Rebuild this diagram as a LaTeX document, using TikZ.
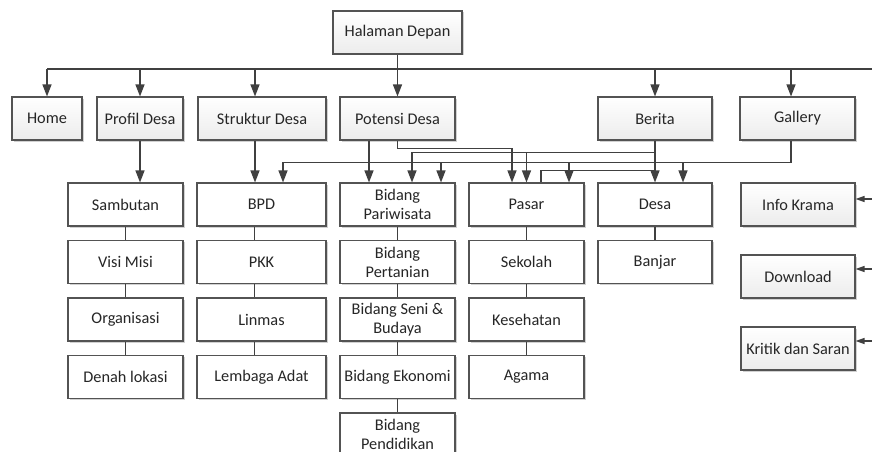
\documentclass[tikz,border=0pt]{standalone}
\usepackage{fontspec}
\setmainfont{Carlito}
\usetikzlibrary{arrows.meta,shadows,calc}
\definecolor{lncol}{HTML}{404040}
\tikzset{
  base/.style={draw=lncol!90, line width=1.1pt, minimum height=43pt, inner sep=1pt,
    align=center, font=\fontsize{16.3}{19}\selectfont, text=black!85,
    drop shadow={shadow xshift=1.5pt, shadow yshift=-1.5pt, opacity=0.18, fill=black}},
  topbox/.style={base, top color=white, bottom color=gray!15},
  subbox/.style={base, fill=white},
  wire/.style={draw=lncol, line width=1.2pt},
  arr/.style={wire, -{Triangle[length=12pt,width=9pt]}},
  sarr/.style={wire, -{Triangle[length=9pt,width=6pt]}},
}
\begin{document}
\begin{tikzpicture}[x=1pt,y=-1pt]
\useasboundingbox (0,0) rectangle (872,452);
\fill[white] (0,0) rectangle (872,452);

% top level
\node[topbox, minimum width=129pt] (hd) at (397.5,32.5) {Halaman Depan};
\node[topbox, minimum width=70pt]  (home)    at (47,118.5)    {Home};
\node[topbox, minimum width=86pt]  (profil)  at (140,118.5)   {Profil Desa};
\node[topbox, minimum width=128pt] (struk)   at (262,118.5)   {Struktur Desa};
\node[topbox, minimum width=115pt] (potensi) at (397.5,118.5) {Potensi Desa};
\node[topbox, minimum width=114pt] (berita)  at (655,118.5)   {Berita};
\node[topbox, minimum width=115pt] (gallery) at (797.5,118.5) {Gallery};

% right column
\node[topbox, minimum width=114pt] (info)   at (798,204.5) {Info Krama};
\node[topbox, minimum width=114pt] (down)   at (798,276.5) {Download};
\node[topbox, minimum width=114pt] (kritik) at (798,348.5) {Kritik dan Saran};

% column A
\node[subbox, minimum width=115pt] (samb)  at (125.5,204.5) {Sambutan};
\node[subbox, minimum width=115pt] (visi)  at (125.5,262)   {Visi Misi};
\node[subbox, minimum width=115pt] (org)   at (125.5,319.5) {Organisasi};
\node[subbox, minimum width=115pt] (denah) at (125.5,377)   {Denah lokasi};
% column B
\node[subbox, minimum width=129pt] (bpd)    at (261.5,204.5) {BPD};
\node[subbox, minimum width=129pt] (pkk)    at (261.5,262)   {PKK};
\node[subbox, minimum width=129pt] (linmas) at (261.5,319.5) {Linmas};
\node[subbox, minimum width=129pt] (adat)   at (261.5,377)   {Lembaga Adat};
% column C
\node[subbox, minimum width=115pt] (pari) at (397.5,204.5) {Bidang\\Pariwisata};
\node[subbox, minimum width=115pt] (pert) at (397.5,262)   {Bidang\\Pertanian};
\node[subbox, minimum width=115pt] (seni) at (397.5,319.5) {Bidang Seni \&\\Budaya};
\node[subbox, minimum width=115pt] (eko)  at (397.5,377)   {Bidang Ekonomi};
\node[subbox, minimum width=115pt] (pend) at (397.5,434.5) {Bidang\\Pendidikan};
% column D
\node[subbox, minimum width=115pt] (pasar) at (526.5,204.5) {Pasar};
\node[subbox, minimum width=115pt] (sek)   at (526.5,262)   {Sekolah};
\node[subbox, minimum width=115pt] (kes)   at (526.5,319.5) {Kesehatan};
\node[subbox, minimum width=115pt] (agama) at (526.5,377)   {Agama};
% column E
\node[subbox, minimum width=114pt] (desa)   at (655,204.5) {Desa};
\node[subbox, minimum width=114pt] (banjar) at (655,262)   {Banjar};

% top bus
\coordinate (busL) at (47,69);
\coordinate (busR) at (872,69);
\draw[wire] (hd.south) -- (hd.south |- busL);
\draw[wire] (busL) -- (busR);
\draw[arr] (busL) -- (home.north);
\draw[arr] (profil.north |- busL) -- (profil.north);
\coordinate (sN) at ([xshift=-7pt]struk.north);
\draw[arr] (sN |- busL) -- (sN);
\draw[arr] (potensi.north |- busL) -- (potensi.north);
\draw[arr] (berita.north |- busL) -- (berita.north);
\coordinate (gN) at ([xshift=-6.5pt]gallery.north);
\draw[arr] (gN |- busL) -- (gN);

% profil, struktur, potensi
\draw[arr] (profil.south) -- (profil.south |- samb.north);
\coordinate (sS) at ([xshift=-7pt]struk.south);
\draw[arr] (sS) -- (sS |- bpd.north);
\coordinate (pS1) at ([xshift=-28.5pt]potensi.south);
\draw[arr] (pS1) -- (pS1 |- pari.north);
\coordinate (pasarA) at ([xshift=-14.5pt]pasar.north);
\draw[arr] (potensi.south) -- ++(0,8) -| (pasarA);

% berita
\draw[arr] (berita.south) -- (desa.north);
\coordinate (b1) at ($(berita.south)+(0,12)$);
\coordinate (b2) at ($(berita.south)+(0,30)$);
\coordinate (pariB) at ([xshift=14.5pt]pari.north);
\draw[arr] (b1) -| (pariB);
\draw[arr] (pasar.north |- b1) -- (pasar.north);
\coordinate (pasarB) at ([xshift=14.5pt]pasar.north);
\draw[wire] (b2) -| (pasarB);

% gallery
\coordinate (gS) at ([xshift=-6.5pt]gallery.south);
\coordinate (g1) at ($(gS)+(0,22)$);
\coordinate (bpdB) at ([xshift=21.5pt]bpd.north);
\draw[arr] (gS) -- (g1) -| (bpdB);
\coordinate (pariC) at ([xshift=43.5pt]pari.north);
\coordinate (pasarC) at ([xshift=42.5pt]pasar.north);
\coordinate (desaB) at ([xshift=28pt]desa.north);
\foreach \c in {pariC,pasarC,desaB} \draw[arr] (\c |- g1) -- (\c);

% right arrows
\coordinate (r1) at (872,199);
\coordinate (r2) at (872,269);
\coordinate (r3) at (872,341);
\draw[sarr] (r1) -- (r1 -| info.east);
\draw[sarr] (r2) -- (r2 -| down.east);
\draw[sarr] (r3) -- (r3 -| kritik.east);

% stacks
\draw[wire] (samb) -- (visi);
\draw[wire] (visi) -- (org);
\draw[wire] (org) -- (denah);
\draw[wire] ([xshift=-7pt]bpd.south) -- ([xshift=-7pt]pkk.north);
\draw[wire] ([xshift=-7pt]pkk.south) -- ([xshift=-7pt]linmas.north);
\draw[wire] ([xshift=-7pt]linmas.south) -- ([xshift=-7pt]adat.north);
\draw[wire] (pari) -- (pert);
\draw[wire] (pert) -- (seni);
\draw[wire] (seni) -- (eko);
\draw[wire] (eko) -- (pend);
\draw[wire] (pasar) -- (sek);
\draw[wire] (sek) -- (kes);
\draw[wire] (kes) -- (agama);
\draw[wire] (desa) -- (banjar);
\end{tikzpicture}
\end{document}
